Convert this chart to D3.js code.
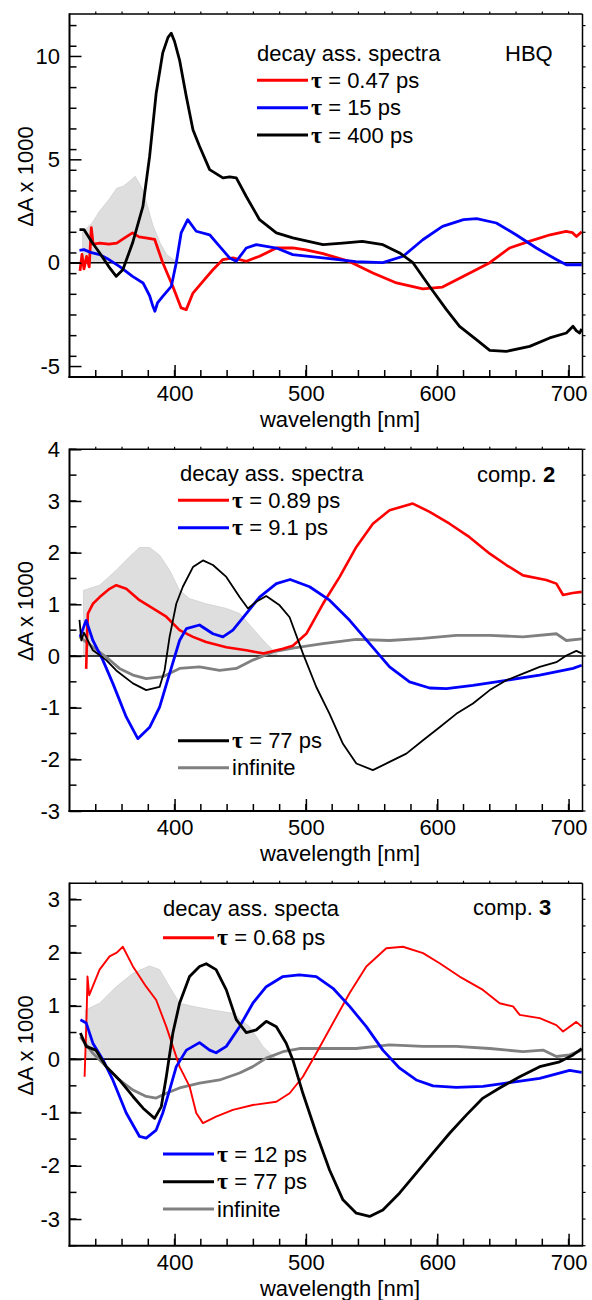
<!DOCTYPE html>
<html>
<head>
<meta charset="utf-8">
<script src="https://cdn.jsdelivr.net/npm/d3@7"></script>
<style>
  body { margin: 0; background: #fff; }
  svg { display: block; font-family: "Liberation Sans", Arial, sans-serif; }
</style>
</head>
<body>
<div id="chart"></div>
<script>
// ---- data: [wavelength nm, dA x 1000] ----

// panel 1, HBQ
var hbqAbs = [[330,1.5],[337,1.9],[343,2.5],[350,3.05],[356,3.6],[361,3.7],[366,3.95],[370,4.18],[376,3.5],[380,2.6],[383.5,1.8],[389,0.95],[394,0.39],[399,0.15],[404,0]];
var hbq047 = [[328,-0.4],[329.5,0.4],[331,-0.3],[333,0.3],[335,-0.2],[336.6,1.7],[338,0.9],[343,0.95],[350,0.9],[356,0.95],[362,1.2],[368,1.44],[373,1.25],[378,1.2],[384.8,1.13],[391,0],[398.7,-1.15],[405,-2.19],[408.9,-2.27],[414,-1.47],[421.6,-0.9],[429.2,-0.34],[436.8,0.15],[444.4,0.23],[454.6,0.07],[464.7,0.31],[477.5,0.71],[490,0.72],[500,0.62],[513,0.44],[533,0.06],[551,-0.5],[569,-0.98],[589,-1.27],[604,-1.18],[620,-0.66],[640,0],[655,0.71],[670,1.03],[686,1.35],[698,1.51],[703,1.45],[706,1.27],[710,1.5]];
var hbq15 = [[327.6,0.6],[331,0.63],[336,0.5],[343,0.39],[350,0.15],[358,-0.18],[368,-0.66],[376,-0.98],[381,-1.6],[383.5,-2.11],[385,-2.35],[387,-1.95],[391,-1.63],[397.5,-1.15],[401.3,0],[405,1.44],[410,2.08],[416.5,1.52],[426.7,1.35],[434.3,0.79],[441.9,0.23],[447,0.07],[454.6,0.71],[462.2,0.87],[477.5,0.71],[490,0.39],[513,0.23],[538,0.05],[558.6,0],[574,0.31],[589,1.11],[604,1.76],[620,2.08],[630,2.13],[645,1.92],[660,1.35],[675.5,0.71],[690.7,0.15],[698.3,-0.1],[710,-0.1]];
var hbq400 = [[327.6,1.6],[331,1.6],[337,1.0],[343,0.47],[350,-0.2],[355.6,-0.66],[360.6,-0.34],[368,0.95],[375.9,2.72],[381,5.14],[386,8.2],[391,10.15],[395,10.9],[397.5,11.1],[400,10.7],[403.8,9.8],[408.9,8.05],[414,6.43],[419,5.63],[426.7,4.5],[436.8,4.1],[442,4.15],[447,4.1],[454.6,3.2],[464.7,2.08],[477.5,1.44],[490,1.2],[513,0.87],[528,0.95],[543,1.03],[558.6,0.87],[571.4,0.47],[581.5,0],[594.2,-1.15],[607,-2.27],[617,-3.08],[629.8,-3.72],[640,-4.24],[652.6,-4.29],[670.4,-4.05],[685.6,-3.64],[698.3,-3.4],[703.4,-3.08],[706,-3.3],[708.5,-3.4],[710,-3.2]];

// panel 2, comp. 2
var c2Abs = [[330.7,1.27],[343,1.37],[355.6,1.66],[365.7,1.92],[373.3,2.1],[381,2.1],[388.6,1.95],[396.2,1.66],[403.8,1.27],[411.4,1.11],[424,1.01],[439.4,0.92],[449.5,0.82],[459.6,0.53],[469.8,0.24],[478,0.03]];
var c2_089 = [[332.7,-0.25],[333.5,0.5],[334,0.82],[337.8,1.01],[343,1.14],[350.5,1.3],[355.6,1.37],[363.2,1.3],[373.3,1.08],[383.5,0.92],[393.7,0.76],[403.8,0.5],[414,0.37],[424,0.27],[439.4,0.17],[454.6,0.11],[467.3,0.05],[482.5,0.14],[490,0.2],[500.3,0.43],[513,1.01],[525.7,1.53],[538.4,2.11],[551,2.56],[563.7,2.82],[581.4,2.95],[594.2,2.79],[609.4,2.56],[624.6,2.3],[640,1.98],[652.6,1.76],[665.3,1.56],[683,1.47],[690.7,1.4],[695.8,1.18],[703,1.22],[710,1.24]];
var c2_91 = [[328,0.37],[332.7,0.69],[337.8,0.3],[345.4,-0.08],[353,-0.53],[363.2,-1.18],[372,-1.6],[381,-1.38],[388.6,-0.99],[396.2,-0.34],[403.8,0.3],[409,0.53],[419,0.6],[429.2,0.43],[436.8,0.37],[444.4,0.5],[454.6,0.82],[464.7,1.14],[477.5,1.4],[488,1.48],[502.8,1.34],[518,1.08],[533.3,0.69],[548.5,0.24],[563.7,-0.21],[578.9,-0.5],[594.2,-0.62],[607,-0.63],[627.2,-0.57],[652.6,-0.47],[678,-0.37],[703.4,-0.24],[710,-0.18]];
var c2_77 = [[327.6,0.7],[329,0.3],[331,0.45],[337.8,0.11],[348,-0.08],[355.6,-0.28],[368.3,-0.53],[378.4,-0.66],[388.6,-0.6],[392.4,-0.28],[396.2,0.37],[401.3,1.01],[406.3,1.34],[414,1.72],[421.6,1.85],[429.2,1.76],[439.4,1.53],[449.5,1.14],[455.9,0.92],[462.2,1.05],[469.8,1.16],[480,0.98],[487.6,0.75],[497.7,0.05],[507.9,-0.6],[518,-1.12],[528.2,-1.7],[538.4,-2.08],[551,-2.21],[563.7,-2.05],[576.5,-1.89],[589.2,-1.63],[601.8,-1.38],[614.5,-1.12],[627.2,-0.92],[640,-0.66],[652.6,-0.47],[665.3,-0.34],[678,-0.21],[690.7,-0.12],[698.3,0.01],[705.9,0.1],[710,0.05]];
var c2_inf = [[327.6,0.37],[337.8,0.17],[348,-0.02],[358,-0.24],[368.3,-0.37],[378.4,-0.44],[391,-0.4],[403.8,-0.24],[419,-0.21],[434.3,-0.28],[447,-0.24],[459.6,-0.08],[474.9,0.08],[490,0.15],[513,0.24],[538.4,0.32],[563.7,0.3],[589.2,0.34],[614.5,0.4],[640,0.4],[665.3,0.37],[690.7,0.43],[698.3,0.3],[710,0.33]];

// panel 3, comp. 3
var c3Abs = [[332,0.92],[342.9,1.05],[355.6,1.36],[368.3,1.61],[381,1.75],[388.6,1.68],[396.2,1.36],[403.8,1.05],[414,0.99],[429.2,0.92],[444.4,0.86],[457.1,0.61],[467.3,0.24],[475,0.05],[478,0]];
var c3_068 = [[331.5,-0.33],[333,0.8],[333.7,1.55],[335,1.2],[342.9,1.68],[350.5,1.93],[356,2.0],[360.6,2.11],[368.3,1.74],[378.4,1.36],[386,1.11],[393.7,0.61],[398.7,0.24],[403.8,-0.14],[411.4,-0.51],[416.5,-1.01],[421.6,-1.2],[431.6,-1.08],[444.4,-0.95],[459.6,-0.86],[477.5,-0.8],[487.6,-0.64],[497.7,-0.33],[507.9,0.11],[520.6,0.68],[533.3,1.24],[546,1.74],[561.2,2.08],[573.9,2.11],[589.2,1.99],[601.8,1.8],[617,1.55],[634.8,1.3],[647.5,1.05],[657.7,0.99],[662.8,0.83],[678,0.77],[690.7,0.64],[695.8,0.52],[705.9,0.7],[710,0.61]];
var c3_12 = [[328.3,0.74],[332.7,0.68],[337.8,0.3],[345.4,-0.01],[353,-0.39],[363.2,-1.01],[373.3,-1.45],[378.4,-1.48],[386,-1.33],[391,-1.01],[396.2,-0.58],[401.3,-0.14],[409,0.17],[419,0.31],[426.7,0.17],[431.6,0.12],[439.4,0.24],[449.5,0.61],[459.6,1.05],[469.8,1.36],[482.5,1.55],[495,1.58],[507.9,1.55],[520.6,1.33],[533.3,0.99],[546,0.61],[558.6,0.17],[571.4,-0.17],[584,-0.39],[596.8,-0.5],[614.5,-0.53],[634.8,-0.51],[655,-0.44],[678,-0.36],[700.8,-0.21],[710,-0.25]];
var c3_77 = [[328.3,0.49],[332.7,0.24],[340,0.17],[348,-0.14],[358,-0.39],[368.3,-0.7],[376,-0.92],[384.8,-1.11],[389.9,-0.89],[393.7,-0.33],[398.7,0.49],[403.8,1.05],[411.4,1.55],[419,1.74],[424.1,1.79],[431.6,1.68],[439.4,1.3],[447,0.74],[454.6,0.5],[462.2,0.55],[469.8,0.71],[477.5,0.61],[485,0.3],[490,-0.01],[497.7,-0.64],[507.9,-1.39],[518,-2.08],[528.2,-2.64],[538.4,-2.89],[548.5,-2.95],[558.6,-2.83],[571.4,-2.51],[584,-2.14],[596.8,-1.76],[609.4,-1.39],[622.1,-1.05],[634.8,-0.73],[647.5,-0.54],[662.8,-0.33],[678,-0.14],[693.2,-0.05],[703.4,0.08],[710,0.2]];
var c3_inf = [[328.3,0.42],[337.8,0.11],[348,-0.14],[358,-0.39],[368.3,-0.58],[378.4,-0.7],[386,-0.73],[393.7,-0.64],[403.8,-0.54],[419,-0.45],[434.3,-0.39],[449.5,-0.26],[459.6,-0.14],[469.8,0.02],[482.5,0.14],[495,0.2],[513,0.2],[538.4,0.2],[563.7,0.27],[589.2,0.24],[614.5,0.24],[640,0.2],[665.3,0.14],[680.5,0.17],[690.7,0.05],[700.8,0.08],[710,0.17]];

// tick labels
var xTicks = [400, 500, 600, 700];
var yTicks1 = [-5, 0, 5, 10];
var yTicks2 = [-3, -2, -1, 0, 1, 2, 3, 4];
var yTicks3 = [-3, -2, -1, 0, 1, 2, 3];

var W = 592, H = 1300;
var FS = 22;
var svg = d3.select("#chart").append("svg").attr("width", W).attr("height", H);

// x scale is the same for all three panels
var x = d3.scaleLinear().domain([320, 710.6]).range([69.5, 582.5]);
var xMinor = d3.range(340, 711, 20);

var line = function(y) {
  return d3.line().x(function(d) { return x(d[0]); }).y(function(d) { return y(d[1]); });
};

function drawPanel(p) {
  var y = d3.scaleLinear().domain(p.domain).range(p.range);
  var top = p.range[1], bottom = p.range[0];
  var left = x.range()[0], right = x.range()[1];
  var g = svg.append("g");

  // absorption spectrum, grey shade
  var area = d3.area().x(function(d) { return x(d[0]); }).y0(y(0)).y1(function(d) { return y(d[1]); });
  g.append("path").datum(p.abs).attr("d", area)
    .attr("fill", "#dedede").attr("stroke", "#cfcfcf").attr("stroke-width", 0.8);

  // zero line
  g.append("line").attr("x1", left).attr("x2", right).attr("y1", y(0)).attr("y2", y(0))
    .attr("stroke", "#000").attr("stroke-width", 1.6);

  p.series.forEach(function(s) {
    g.append("path").datum(s.data).attr("d", line(y))
      .attr("fill", "none").attr("stroke", s.color).attr("stroke-width", s.w || 2.8)
      .attr("stroke-linejoin", "round");
  });

  // frame
  g.append("line").attr("x1", left).attr("x2", right).attr("y1", top).attr("y2", top).attr("stroke", "#000").attr("stroke-width", 1.5);
  g.append("line").attr("x1", right).attr("x2", right).attr("y1", top).attr("y2", bottom).attr("stroke", "#000").attr("stroke-width", 1.5);

  // left axis, ticks inward; plain hyphen for negatives like the original
  var yMinor = d3.range(p.domain[0], p.domain[1] + 1e-6, p.minor).filter(function(v) {
    return y(v) >= top - 0.5 && y(v) <= bottom + 0.5;
  });
  var ax = d3.axisLeft(y).tickValues(p.yTicks).tickSize(-12).tickPadding(9.5)
    .tickFormat(function(d) { return String(d); });
  var ay = g.append("g").attr("transform", "translate(" + left + ",0)").call(ax);
  ay.select(".domain").remove();
  g.selectAll(".yminor").data(yMinor).enter().append("line")
    .attr("x1", left).attr("x2", left + 7).attr("y1", function(d) { return y(d); }).attr("y2", function(d) { return y(d); })
    .attr("stroke", "#000").attr("stroke-width", 1.5);
  // right axis, small ticks outward
  g.selectAll(".yright").data(yMinor).enter().append("line")
    .attr("x1", right).attr("x2", right + 3).attr("y1", function(d) { return y(d); }).attr("y2", function(d) { return y(d); })
    .attr("stroke", "#000").attr("stroke-width", 1.2);

  // bottom axis
  var bx = d3.axisBottom(x).tickValues(xTicks).tickSize(-12).tickPadding(8.5);
  var axb = g.append("g").attr("transform", "translate(0," + bottom + ")").call(bx);
  axb.select(".domain").remove();
  g.selectAll(".xminor").data(xMinor).enter().append("line")
    .attr("x1", function(d) { return x(d); }).attr("x2", function(d) { return x(d); })
    .attr("y1", bottom).attr("y2", bottom - 7).attr("stroke", "#000").attr("stroke-width", 1.5);
  // top small ticks
  g.selectAll(".xtop").data(xMinor).enter().append("line")
    .attr("x1", function(d) { return x(d); }).attr("x2", function(d) { return x(d); })
    .attr("y1", top).attr("y2", top - 2.5).attr("stroke", "#000").attr("stroke-width", 1.2);

  g.append("line").attr("x1", left).attr("x2", left).attr("y1", top - 0.7).attr("y2", bottom + 1).attr("stroke", "#000").attr("stroke-width", 2);
  g.append("line").attr("x1", left - 1).attr("x2", right + 0.7).attr("y1", bottom).attr("y2", bottom).attr("stroke", "#000").attr("stroke-width", 2);

  g.selectAll(".tick line").attr("stroke", "#000").attr("stroke-width", 1.5);
  g.selectAll(".tick text").attr("font-size", FS).attr("fill", "#000")
    .attr("font-family", "Liberation Sans, Arial, sans-serif");

  // axis titles
  g.append("text").attr("x", (left + right) / 2 + 14).attr("y", bottom + 50)
    .attr("text-anchor", "middle").attr("font-size", FS).text("wavelength [nm]");
  g.append("text").attr("transform", "translate(33," + ((top + bottom) / 2 - 19) + ") rotate(-90)")
    .attr("text-anchor", "middle").attr("font-size", FS).text("\u0394A x 1000");

  // legend
  g.append("text").attr("x", p.head[0]).attr("y", p.head[1]).attr("font-size", FS).text(p.headText);
  p.legend.forEach(function(l) {
    g.append("line").attr("x1", l.x).attr("x2", l.x + 51).attr("y1", l.y).attr("y2", l.y)
      .attr("stroke", l.color).attr("stroke-width", 3);
    var t = g.append("text").attr("x", l.x + 54).attr("y", l.y + 7.5).attr("font-size", FS);
    if (l.tau) {
      t.append("tspan").attr("font-family", "Liberation Serif, serif").attr("font-weight", "bold").attr("font-size", 24).text("\u03c4");
      t.append("tspan").text(" = " + l.tau + " ps");
    } else {
      t.text(l.label);
    }
  });

  // compound tag
  var tag = g.append("text").attr("x", p.tag[0]).attr("y", p.tag[1]).attr("font-size", FS);
  tag.append("tspan").text(p.tagText);
  if (p.tagBold) tag.append("tspan").attr("font-weight", "bold").text(p.tagBold);
}

drawPanel({
  domain: [-5.53, 12.03], range: [377, 14], minor: 1, yTicks: yTicks1,
  abs: hbqAbs,
  series: [
    {data: hbq047, color: "#ff0000"},
    {data: hbq15, color: "#0000ff"},
    {data: hbq400, color: "#000000"}
  ],
  head: [257, 61], headText: "decay ass. spectra",
  legend: [
    {x: 257, y: 80.3, color: "#ff0000", tau: "0.47"},
    {x: 257, y: 107.7, color: "#0000ff", tau: "15"},
    {x: 257, y: 135, color: "#000000", tau: "400"}
  ],
  tag: [505, 61], tagText: "HBQ"
});

drawPanel({
  domain: [-3, 4], range: [811, 449.3], minor: 0.5, yTicks: yTicks2,
  abs: c2Abs,
  series: [
    {data: c2_inf, color: "#808080"},
    {data: c2_089, color: "#ff0000", w: 2.6},
    {data: c2_91, color: "#0000ff"},
    {data: c2_77, color: "#000000", w: 1.8}
  ],
  head: [180, 481], headText: "decay ass. spectra",
  legend: [
    {x: 178, y: 500.3, color: "#ff0000", tau: "0.89"},
    {x: 178, y: 527.7, color: "#0000ff", tau: "9.1"},
    {x: 178, y: 740.7, color: "#000000", tau: "77"},
    {x: 178, y: 767.7, color: "#808080", label: "infinite"}
  ],
  tag: [477, 482], tagText: "comp. ", tagBold: "2"
});

drawPanel({
  domain: [-3.5, 3.3], range: [1245.7, 883.3], minor: 0.5, yTicks: yTicks3,
  abs: c3Abs,
  series: [
    {data: c3_inf, color: "#808080"},
    {data: c3_068, color: "#ff0000", w: 1.9},
    {data: c3_12, color: "#0000ff"},
    {data: c3_77, color: "#000000"}
  ],
  head: [163, 915.5], headText: "decay ass. specta",
  legend: [
    {x: 163, y: 937.7, color: "#ff0000", tau: "0.68"},
    {x: 163, y: 1154, color: "#0000ff", tau: "12"},
    {x: 163, y: 1181.7, color: "#000000", tau: "77"},
    {x: 163, y: 1209, color: "#808080", label: "infinite"}
  ],
  tag: [473, 915], tagText: "comp. ", tagBold: "3"
});
</script>
</body>
</html>
